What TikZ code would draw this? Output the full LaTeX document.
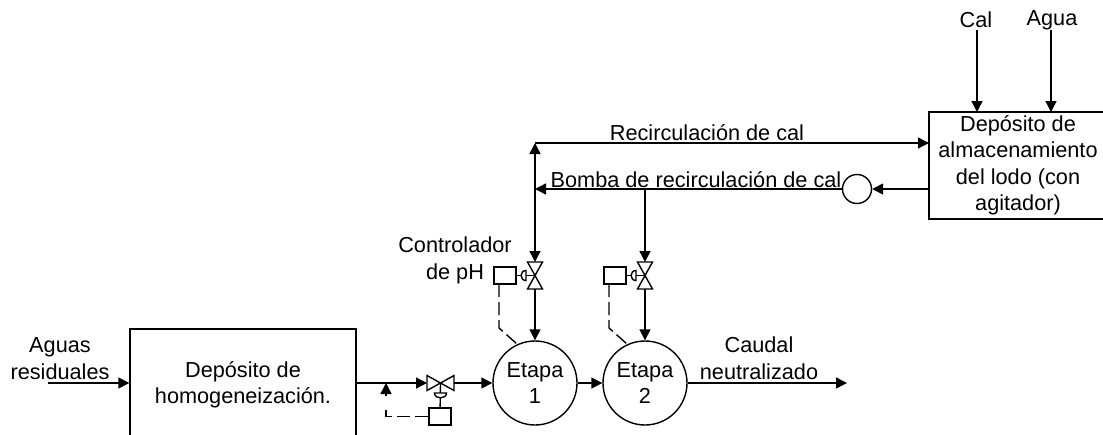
\documentclass[tikz,border=0pt]{standalone}
\usepackage{fontspec}
\setmainfont{Liberation Sans}
\usepackage{tikz}
\usetikzlibrary{arrows.meta}
\usetikzlibrary{calc}
\tikzset{
  flow/.style={-{Triangle[length=11pt,width=11pt]}},
  etiqueta/.style={align=center, inner sep=0pt},
  tanque/.style={draw, rectangle, align=center, inner sep=0pt},
  etapa/.style={draw, circle, minimum size=84pt, inner sep=0pt, align=center},
  sensor/.style={draw, rectangle, minimum width=22pt, minimum height=17pt, inner sep=0pt},
  senal/.style={dash pattern=on 13pt off 5pt}
}
\begin{document}
\begin{tikzpicture}[x=1pt, y=-1pt, line width=1.4pt,
    font=\fontsize{21.7}{26.5}\selectfont]

    \useasboundingbox (0, 0) rectangle (1103, 434);
    \clip (0, 0) rectangle (1103, 434);

    % tanks
    \node [tanque, minimum width=226pt, minimum height=112pt] (homog) at (243, 385)
      {Depósito de\\homogeneización.};
    \node [tanque, minimum width=178pt, minimum height=107pt] (lodo) at (1018, 165.5)
      {Depósito de\\almacenamiento\\del lodo (con\\agitador)};
    \node [draw, circle, minimum size=29pt, inner sep=0pt] (bomba) at (857, 189) {};

    % labels
    \node [etiqueta] (aguas) at (60, 358.5) {Aguas\\residuales};
    \node [etiqueta] (caudal) at (759, 358) {Caudal\\neutralizado};
    \node [etiqueta] (controlador) at (455, 260.5) {Controlador\\de pH};
    \node [etiqueta] (cal) at (976, 20) {Cal};
    \node [etiqueta] (agua) at (1052, 20) {Agua};
    \node [etiqueta] (recirc) at (707, 133) {Recirculación de cal};
    \node [etiqueta] (rebomba) at (696, 180) {Bomba de recirculación de cal};

    % free ends and junctions
    \coordinate (entrada) at (48, 383);
    \coordinate (salida) at (847, 383);
    \coordinate (calin) at (977, 30);
    \coordinate (calout) at (977, 112);
    \coordinate (aguain) at (1051, 30);
    \coordinate (aguaout) at (1051, 112);
    \coordinate (esquina) at (535, 143);
    \coordinate (lodoin) at (929, 143);
    \coordinate (lodoout) at (929, 189);
    \coordinate (union1) at (535, 189);
    \coordinate (union2) at (645, 189);

    % stages with their valve and pH controller
    \foreach \x/\n in {535/1, 645/2} {
      \node [etapa] (etapa\n) at (\x, 383) {Etapa\\\n};
      \coordinate (vtop\n) at (\x, 262);
      \coordinate (vbot\n) at (\x, 289);
      \coordinate (vmid\n) at (\x, 275.5);
      \node [sensor] (ph\n) at (\x-30, 275.5) {};
      \draw [fill=white] (vtop\n) -- ++(-7.5, 0) -- ++(15, 27) -- ++(-15, 0) -- ++(15, -27) -- cycle;
      \draw (ph\n) -- (vmid\n);
      \draw [fill=white] (\x-9, 270.5) .. controls (\x-15.5, 270.5) and (\x-15.5, 280.5) .. (\x-9, 280.5) -- cycle;
      \draw [flow] (union\n) -- (vtop\n);
      \draw [flow] (vbot\n) -- (etapa\n);
      \draw [senal] (\x-36, 284) -- (\x-36, 328) -- (\x-18, 344);
    }

    % main line
    \coordinate (vizq) at (427, 383);
    \coordinate (vder) at (454, 383);
    \coordinate (vmid) at (440.5, 383);
    \coordinate (retro) at (386, 383);
    \node [sensor] (phin) at (440, 416.5) {};
    \draw [flow] (entrada) -- (homog.west |- entrada);
    \draw [flow] (homog.east |- vizq) -- (vizq);
    \draw [fill=white] (vizq) -- ++(0, -7.5) -- ++(27, 15) -- ++(0, -15) -- ++(-27, 15) -- cycle;
    \draw [flow] (vder) -- (etapa1);
    \draw [flow] (etapa1) -- (etapa2);
    \draw [flow] (etapa2) -- (salida);
    \draw (vmid) -- (phin);
    \draw [fill=white] (434.5, 393) .. controls (434.5, 399.5) and (446.5, 399.5) .. (446.5, 393) -- cycle;
    \draw [senal] (phin.west) -- (386, 416.5) -- (386, 410);
    \draw [flow] (386, 396) -- (retro);

    % recirculation
    \draw [flow] (esquina) -- (lodoin);
    \draw [flow] (vtop1 |- union1) -- (esquina);
    \draw [flow] (lodoout) -- (bomba);
    \draw [flow] (bomba) -- (union1);
    \draw [flow] (calin) -- (calout);
    \draw [flow] (aguain) -- (aguaout);

\end{tikzpicture}
\end{document}
